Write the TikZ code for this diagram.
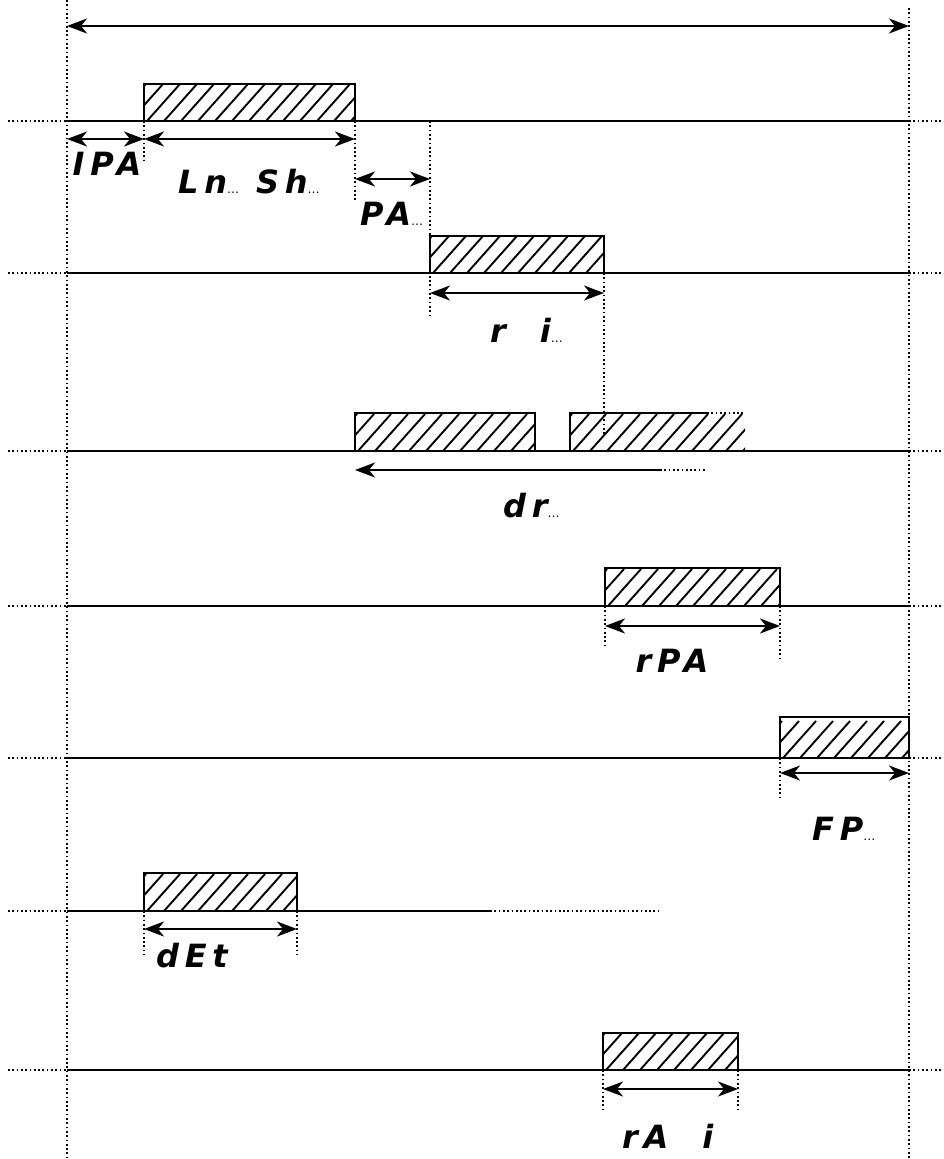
\documentclass[tikz,border=0pt]{standalone}
\usepackage{fontspec}
\newfontfamily\segfont{DejaVu Sans}[LetterSpace=18]
\usetikzlibrary{arrows.meta}
\newcommand\dotsmall{{\fontsize{12}{12}\selectfont\mdseries\upshape …}}
\begin{document}
\begin{tikzpicture}[x=1pt,y=-1pt,
  base/.style={line width=2.2pt},
  dotline/.style={line width=1.7pt,dash pattern=on 1.7pt off 2.6pt},
  boxline/.style={line width=2pt},
  hatchline/.style={line width=1.9pt},
  tip/.tip={Stealth[length=20pt,width=15pt,inset=6pt]},
  dim/.style={line width=2.2pt,tip-tip},
  dimleft/.style={line width=2.2pt,tip-},
  lbl/.style={font=\segfont\bfseries\itshape\fontsize{32}{32}\selectfont,inner sep=0pt}
]
\useasboundingbox (0,0) rectangle (943,1159);
% hatch box macro: x1, ytop, x2, ybot
\newcommand\hatchfill[4]{%
  \begin{scope}
    \clip (#1,#2) rectangle (#3,#4);
    \foreach \k in {-48,-31,...,260}{\draw[hatchline] ({#1+\k},#4) -- ++(33,-37);}
  \end{scope}}
% ---- frame verticals and top arrow
\coordinate (L0) at (67,0);   \coordinate (L1) at (67,1159);
\coordinate (R0) at (909,8);  \coordinate (R1) at (909,1159);
\draw[dotline] (L0) -- (L1);
\draw[dotline] (R0) -- (R1);
\coordinate (TA) at (67,26); \coordinate (TB) at (909,26);
\draw[dim] (TA) -- (TB);
% ---- row 1 (y=121)
\draw[dotline] (8,121) -- (67,121);
\draw[base] (67,121) -- (909,121);
\draw[dotline] (909,121) -- (943,121);
\hatchfill{144}{84}{355}{121}
\draw[boxline] (144,121) rectangle (355,84);
\coordinate (a1) at (67,139); \coordinate (a2) at (144,139); \coordinate (a3) at (355,139);
\draw[dim] (a1) -- (a2);
\draw[dim] (a2) -- (a3);
\draw[dotline] (144,121) -- (144,160);
\draw[dotline] (355,121) -- (355,200);
\draw[dotline] (430,121) -- (430,315);
\coordinate (p1) at (355,179); \coordinate (p2) at (430,179);
\draw[dim] (p1) -- (p2);
\node[lbl] (IPA) at (107,164) {IPA};
\node[lbl,anchor=west] (LnSh) at (178,182) {Ln\dotsmall\ Sh\dotsmall};
\node[lbl,anchor=west] (PA) at (360,214) {PA\dotsmall};
% ---- row 2 (y=273)
\draw[dotline] (8,273) -- (67,273);
\draw[base] (67,273) -- (909,273);
\draw[dotline] (909,273) -- (943,273);
\hatchfill{430}{236}{604}{273}
\draw[boxline] (430,273) rectangle (604,236);
\coordinate (b1) at (430,293); \coordinate (b2) at (604,293);
\draw[dim] (b1) -- (b2);
\draw[dotline] (604,273) -- (604,435);
\node[lbl,anchor=west] (ri) at (490,330) {r\ \ i\dotsmall};
% ---- row 3 (y=451)
\draw[dotline] (8,451) -- (67,451);
\draw[base] (67,451) -- (909,451);
\draw[dotline] (909,451) -- (943,451);
\hatchfill{355}{413}{535}{451}
\draw[boxline] (355,451) rectangle (535,413);
\hatchfill{570}{413}{745}{451}
\draw[boxline] (570,451) -- (570,413) -- (707,413);
\draw[dotline] (707,413) -- (745,413);
\coordinate (c0) at (705,470); \coordinate (c1) at (660,470); \coordinate (c2) at (355,470);
\draw[dimleft] (c2) -- (c1);
\draw[dotline] (c1) -- (c0);
\node[lbl,anchor=west] (dr) at (503,506) {dr\dotsmall};
% ---- row 4 (y=606)
\draw[dotline] (8,606) -- (67,606);
\draw[base] (67,606) -- (909,606);
\draw[dotline] (909,606) -- (943,606);
\hatchfill{605}{568}{780}{606}
\draw[boxline] (605,606) rectangle (780,568);
\coordinate (d1) at (605,626); \coordinate (d2) at (780,626);
\draw[dim] (d1) -- (d2);
\draw[dotline] (605,606) -- (605,645);
\draw[dotline] (780,606) -- (780,660);
\node[lbl] (rPA) at (672,661) {rPA};
% ---- row 5 (y=758)
\draw[dotline] (8,758) -- (67,758);
\draw[base] (67,758) -- (909,758);
\draw[dotline] (909,758) -- (943,758);
\hatchfill{780}{717}{909}{758}
\draw[boxline] (780,758) rectangle (909,717);
\coordinate (e1) at (780,773); \coordinate (e2) at (909,773);
\draw[dim] (e1) -- (e2);
\draw[dotline] (780,758) -- (780,800);
\node[lbl,anchor=west] (FP) at (812,829) {FP\dotsmall};
% ---- row 6 (y=911)
\draw[dotline] (8,911) -- (67,911);
\draw[base] (67,911) -- (490,911);
\draw[dotline] (490,911) -- (660,911);
\hatchfill{144}{873}{297}{911}
\draw[boxline] (144,911) rectangle (297,873);
\coordinate (f1) at (144,929); \coordinate (f2) at (297,929);
\draw[dim] (f1) -- (f2);
\draw[dotline] (144,911) -- (144,955);
\draw[dotline] (297,911) -- (297,955);
\node[lbl] (dEt) at (192,956) {dEt};
% ---- row 7 (y=1070)
\draw[dotline] (8,1070) -- (67,1070);
\draw[base] (67,1070) -- (909,1070);
\draw[dotline] (909,1070) -- (943,1070);
\hatchfill{603}{1033}{738}{1070}
\draw[boxline] (603,1070) rectangle (738,1033);
\coordinate (g1) at (603,1089); \coordinate (g2) at (738,1089);
\draw[dim] (g1) -- (g2);
\draw[dotline] (603,1070) -- (603,1110);
\draw[dotline] (738,1070) -- (738,1110);
\node[lbl,anchor=west] (rAi) at (622,1136) {rA\ \ i};
\end{tikzpicture}
\end{document}
